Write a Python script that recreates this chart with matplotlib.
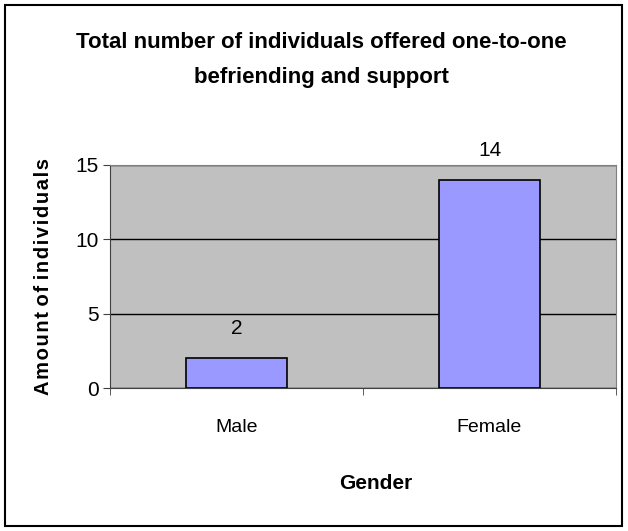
import numpy as np
import matplotlib.pyplot as plt
from matplotlib.patches import Rectangle

genders = ['Male', 'Female']
counts = [2, 14]
y_ticks = [0, 5, 10, 15]

FONT = ['Liberation Sans', 'DejaVu Sans']

W, H = 628, 531
fig = plt.figure(figsize=(W / 100, H / 100), dpi=100)
fig.patch.set_facecolor('white')

# outer frame round the whole chart
fig.add_artist(Rectangle((5 / W, 5 / H), 617 / W, 521 / H, transform=fig.transFigure,
                         fill=False, edgecolor='black', linewidth=1.5))

ax = fig.add_axes([110 / W, (H - 388) / H, 506 / W, 223 / H])
ax.set_facecolor('#c0c0c0')

x = np.arange(len(genders))
bars = ax.bar(x, counts, width=0.4, color='#9999ff', edgecolor='black', linewidth=1.2, zorder=3)
for b, v in zip(bars, counts):
    ax.text(b.get_x() + b.get_width() / 2, v + 1.35, str(v), ha='center', va='bottom',
            fontsize=15, family=FONT)

ax.set_xlim(-0.5, len(genders) - 0.5)
ax.set_ylim(0, 15)
ax.set_yticks(y_ticks)
ax.set_yticklabels([str(t) for t in y_ticks], fontsize=15, family=FONT)
ax.yaxis.grid(True, color='black', linewidth=1)
ax.set_axisbelow(True)

ax.set_xticks(x)
ax.set_xticklabels(genders, fontsize=14, family=FONT)
ax.tick_params(axis='x', length=0, pad=22)
ax.set_xticks(np.arange(len(genders) + 1) - 0.5, minor=True)
ax.tick_params(axis='x', which='minor', length=5, direction='out', color='#404040')
ax.tick_params(axis='y', length=5, direction='out', color='#404040', pad=3)

for s in ['top', 'right']:
    ax.spines[s].set_color('#808080')
for s in ['left', 'bottom']:
    ax.spines[s].set_color('#404040')

ax.set_xlabel('Gender', fontsize=15, fontweight='bold', family=FONT)
ax.xaxis.set_label_coords(0.526, -0.385)
ax.set_ylabel('A\u200am\u200ao\u200au\u200an\u200at o\u200af i\u200an\u200ad\u200ai\u200av\u200ai\u200ad\u200au\u200aa\u200al\u200as',
              fontsize=14.5, fontweight='bold', family=FONT)
ax.yaxis.set_label_coords(-0.112, 0.5)

fig.text(321 / W, (H - 42) / H, 'Total number of individuals offered one-to-one',
         ha='center', va='center', fontsize=16, fontweight='bold', family=FONT)
fig.text(321 / W, (H - 78) / H, 'befriending and support',
         ha='center', va='center', fontsize=16, fontweight='bold', family=FONT)

fig.savefig('out.png', dpi=100)
